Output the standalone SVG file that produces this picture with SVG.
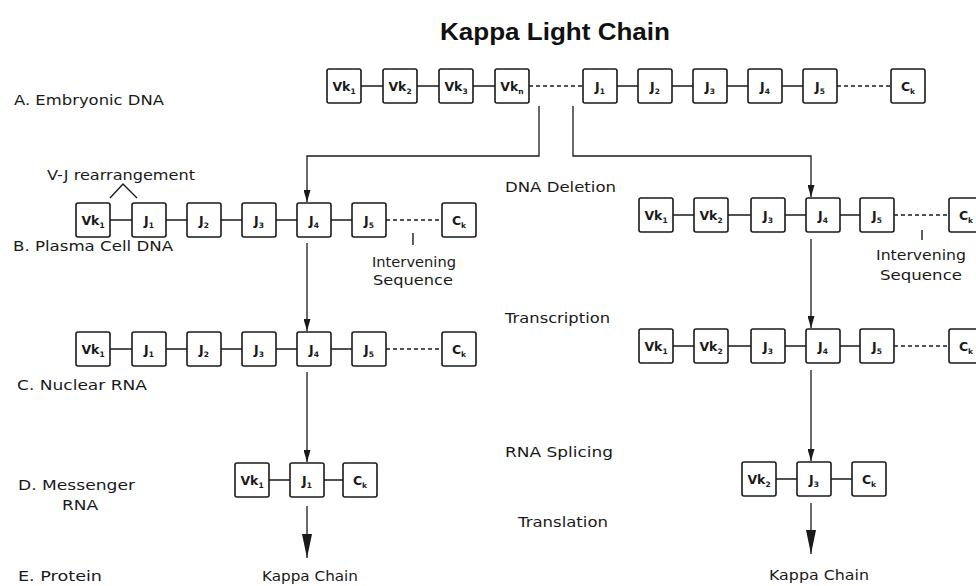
<svg xmlns="http://www.w3.org/2000/svg" width="976" height="586" viewBox="0 0 976 586">
<style>
.bg{fill:#ffffff}
.box rect{fill:#ffffff;stroke:#1a1a1a;stroke-width:1.6}
.box text{font-family:"DejaVu Sans","Liberation Sans",sans-serif;font-weight:bold;font-size:12.5px;fill:#1a1a1a;text-anchor:middle}
.box tspan.s{font-size:7.5px}
.lk{stroke:#1a1a1a;stroke-width:1.4;fill:none}
.dash{stroke:#1a1a1a;stroke-width:1.4;fill:none;stroke-dasharray:4 3}
.ar{stroke:#1a1a1a;stroke-width:1.3;fill:none}
.lbl{font-family:"DejaVu Sans","Liberation Sans",sans-serif;font-size:13.5px;fill:#1a1a1a}
.title{font-family:"Liberation Sans","DejaVu Sans",sans-serif;font-weight:bold;font-size:23px;fill:#111}
</style>
<defs>
<marker id="ah" viewBox="0 0 12 7" refX="12" refY="3.5" markerWidth="12" markerHeight="7" markerUnits="userSpaceOnUse" orient="auto">
<path d="M0,0 L12,3.5 L0,7 z" fill="#1a1a1a"/>
</marker>
<marker id="ahL" viewBox="0 0 24 10" refX="24" refY="5" markerWidth="24" markerHeight="10" markerUnits="userSpaceOnUse" orient="auto">
<path d="M0,0 L24,5 L0,10 z" fill="#1a1a1a"/>
</marker>
</defs>
<rect class="bg" x="0" y="0" width="976" height="586"/>

<text class="title" x="440" y="40" textLength="230" lengthAdjust="spacingAndGlyphs">Kappa Light Chain</text>

<g id="labels">
<text class="lbl" x="14" y="105" textLength="150" lengthAdjust="spacingAndGlyphs">A. Embryonic DNA</text>
<text class="lbl" x="47" y="180" textLength="148" lengthAdjust="spacingAndGlyphs">V-J rearrangement</text>
<text class="lbl" x="13" y="251" textLength="160" lengthAdjust="spacingAndGlyphs">B. Plasma Cell DNA</text>
<text class="lbl" x="17" y="390" textLength="130" lengthAdjust="spacingAndGlyphs">C. Nuclear RNA</text>
<text class="lbl" x="18" y="490" textLength="117" lengthAdjust="spacingAndGlyphs">D. Messenger</text>
<text class="lbl" x="62" y="510" textLength="36" lengthAdjust="spacingAndGlyphs">RNA</text>
<text class="lbl" x="18" y="581" textLength="84" lengthAdjust="spacingAndGlyphs">E. Protein</text>
<text class="lbl" x="505" y="192" textLength="111" lengthAdjust="spacingAndGlyphs">DNA Deletion</text>
<text class="lbl" x="505" y="323" textLength="105" lengthAdjust="spacingAndGlyphs">Transcription</text>
<text class="lbl" x="505" y="457" textLength="108" lengthAdjust="spacingAndGlyphs">RNA Splicing</text>
<text class="lbl" x="518" y="527" textLength="90" lengthAdjust="spacingAndGlyphs">Translation</text>
<text class="lbl" x="262" y="581" textLength="96" lengthAdjust="spacingAndGlyphs">Kappa Chain</text>
<text class="lbl" x="769" y="580" textLength="100" lengthAdjust="spacingAndGlyphs">Kappa Chain</text>
<text class="lbl" x="372" y="267" textLength="84" lengthAdjust="spacingAndGlyphs">Intervening</text>
<text class="lbl" x="373" y="285" textLength="80" lengthAdjust="spacingAndGlyphs">Sequence</text>
<text class="lbl" x="876" y="260" textLength="90" lengthAdjust="spacingAndGlyphs">Intervening</text>
<text class="lbl" x="880" y="280" textLength="82" lengthAdjust="spacingAndGlyphs">Sequence</text>
</g>

<g id="connectors">
<path class="lk" d="M361,86H383M417,86H439M473,86H495M617,86H638M672,86H693M727,86H748M782,86H803"/>
<path class="dash" d="M529,86H583M837,86H891"/>
<path class="lk" d="M110,220H132M166,220H187M221,220H242M276,220H297M331,220H352"/>
<path class="dash" d="M386,220H442"/>
<path class="lk" d="M413,233V245"/>
<path class="lk" d="M110,198L123,184L137,198"/>
<path class="lk" d="M673,215H694M728,215H751M785,215H806M840,215H860"/>
<path class="dash" d="M894,215H949"/>
<path class="lk" d="M922,230V240"/>
<path class="lk" d="M110,349H132M166,349H187M221,349H242M276,349H297M331,349H352"/>
<path class="dash" d="M386,349H442"/>
<path class="lk" d="M673,346H694M728,346H751M785,346H806M840,346H860"/>
<path class="dash" d="M894,346H949"/>
<path class="lk" d="M269,480H290M324,480H343"/>
<path class="lk" d="M776,479H797M831,479H852"/>
<path class="ar" d="M539,106V156H307V202" marker-end="url(#ah)"/>
<path class="ar" d="M307,243V331" marker-end="url(#ah)"/>
<path class="ar" d="M307,372V462" marker-end="url(#ah)"/>
<path class="ar" d="M307,506V558" marker-end="url(#ahL)"/>
<path class="ar" d="M573,106V156H811V197" marker-end="url(#ah)"/>
<path class="ar" d="M811,239V328" marker-end="url(#ah)"/>
<path class="ar" d="M811,370V461" marker-end="url(#ah)"/>
<path class="ar" d="M811,503V554" marker-end="url(#ahL)"/>
</g>

<g id="a-vk1" class="box"><rect x="327" y="69" width="34" height="34" rx="2"/><text x="344" y="91">Vk<tspan class="s" dy="3">1</tspan></text></g>
<g id="a-vk2" class="box"><rect x="383" y="69" width="34" height="34" rx="2"/><text x="400" y="91">Vk<tspan class="s" dy="3">2</tspan></text></g>
<g id="a-vk3" class="box"><rect x="439" y="69" width="34" height="34" rx="2"/><text x="456" y="91">Vk<tspan class="s" dy="3">3</tspan></text></g>
<g id="a-vkn" class="box"><rect x="495" y="69" width="34" height="34" rx="2"/><text x="512" y="91">Vk<tspan class="s" dy="3">n</tspan></text></g>
<g id="a-j1" class="box"><rect x="583" y="69" width="34" height="34" rx="2"/><text x="600" y="91">J<tspan class="s" dy="3">1</tspan></text></g>
<g id="a-j2" class="box"><rect x="638" y="69" width="34" height="34" rx="2"/><text x="655" y="91">J<tspan class="s" dy="3">2</tspan></text></g>
<g id="a-j3" class="box"><rect x="693" y="69" width="34" height="34" rx="2"/><text x="710" y="91">J<tspan class="s" dy="3">3</tspan></text></g>
<g id="a-j4" class="box"><rect x="748" y="69" width="34" height="34" rx="2"/><text x="765" y="91">J<tspan class="s" dy="3">4</tspan></text></g>
<g id="a-j5" class="box"><rect x="803" y="69" width="34" height="34" rx="2"/><text x="820" y="91">J<tspan class="s" dy="3">5</tspan></text></g>
<g id="a-ck" class="box"><rect x="891" y="69" width="34" height="34" rx="2"/><text x="908" y="91">C<tspan class="s" dy="3">k</tspan></text></g>

<g id="bl-vk1" class="box"><rect x="76" y="203" width="34" height="34" rx="2"/><text x="93" y="225">Vk<tspan class="s" dy="3">1</tspan></text></g>
<g id="bl-j1" class="box"><rect x="132" y="203" width="34" height="34" rx="2"/><text x="149" y="225">J<tspan class="s" dy="3">1</tspan></text></g>
<g id="bl-j2" class="box"><rect x="187" y="203" width="34" height="34" rx="2"/><text x="204" y="225">J<tspan class="s" dy="3">2</tspan></text></g>
<g id="bl-j3" class="box"><rect x="242" y="203" width="34" height="34" rx="2"/><text x="259" y="225">J<tspan class="s" dy="3">3</tspan></text></g>
<g id="bl-j4" class="box"><rect x="297" y="203" width="34" height="34" rx="2"/><text x="314" y="225">J<tspan class="s" dy="3">4</tspan></text></g>
<g id="bl-j5" class="box"><rect x="352" y="203" width="34" height="34" rx="2"/><text x="369" y="225">J<tspan class="s" dy="3">5</tspan></text></g>
<g id="bl-ck" class="box"><rect x="442" y="203" width="34" height="34" rx="2"/><text x="459" y="225">C<tspan class="s" dy="3">k</tspan></text></g>

<g id="br-vk1" class="box"><rect x="639" y="198" width="34" height="34" rx="2"/><text x="656" y="220">Vk<tspan class="s" dy="3">1</tspan></text></g>
<g id="br-vk2" class="box"><rect x="694" y="198" width="34" height="34" rx="2"/><text x="711" y="220">Vk<tspan class="s" dy="3">2</tspan></text></g>
<g id="br-j3" class="box"><rect x="751" y="198" width="34" height="34" rx="2"/><text x="768" y="220">J<tspan class="s" dy="3">3</tspan></text></g>
<g id="br-j4" class="box"><rect x="806" y="198" width="34" height="34" rx="2"/><text x="823" y="220">J<tspan class="s" dy="3">4</tspan></text></g>
<g id="br-j5" class="box"><rect x="860" y="198" width="34" height="34" rx="2"/><text x="877" y="220">J<tspan class="s" dy="3">5</tspan></text></g>
<g id="br-ck" class="box"><rect x="949" y="198" width="34" height="34" rx="2"/><text x="966" y="220">C<tspan class="s" dy="3">k</tspan></text></g>

<g id="cl-vk1" class="box"><rect x="76" y="332" width="34" height="34" rx="2"/><text x="93" y="354">Vk<tspan class="s" dy="3">1</tspan></text></g>
<g id="cl-j1" class="box"><rect x="132" y="332" width="34" height="34" rx="2"/><text x="149" y="354">J<tspan class="s" dy="3">1</tspan></text></g>
<g id="cl-j2" class="box"><rect x="187" y="332" width="34" height="34" rx="2"/><text x="204" y="354">J<tspan class="s" dy="3">2</tspan></text></g>
<g id="cl-j3" class="box"><rect x="242" y="332" width="34" height="34" rx="2"/><text x="259" y="354">J<tspan class="s" dy="3">3</tspan></text></g>
<g id="cl-j4" class="box"><rect x="297" y="332" width="34" height="34" rx="2"/><text x="314" y="354">J<tspan class="s" dy="3">4</tspan></text></g>
<g id="cl-j5" class="box"><rect x="352" y="332" width="34" height="34" rx="2"/><text x="369" y="354">J<tspan class="s" dy="3">5</tspan></text></g>
<g id="cl-ck" class="box"><rect x="442" y="332" width="34" height="34" rx="2"/><text x="459" y="354">C<tspan class="s" dy="3">k</tspan></text></g>

<g id="cr-vk1" class="box"><rect x="639" y="329" width="34" height="34" rx="2"/><text x="656" y="351">Vk<tspan class="s" dy="3">1</tspan></text></g>
<g id="cr-vk2" class="box"><rect x="694" y="329" width="34" height="34" rx="2"/><text x="711" y="351">Vk<tspan class="s" dy="3">2</tspan></text></g>
<g id="cr-j3" class="box"><rect x="751" y="329" width="34" height="34" rx="2"/><text x="768" y="351">J<tspan class="s" dy="3">3</tspan></text></g>
<g id="cr-j4" class="box"><rect x="806" y="329" width="34" height="34" rx="2"/><text x="823" y="351">J<tspan class="s" dy="3">4</tspan></text></g>
<g id="cr-j5" class="box"><rect x="860" y="329" width="34" height="34" rx="2"/><text x="877" y="351">J<tspan class="s" dy="3">5</tspan></text></g>
<g id="cr-ck" class="box"><rect x="949" y="329" width="34" height="34" rx="2"/><text x="966" y="351">C<tspan class="s" dy="3">k</tspan></text></g>

<g id="dl-vk1" class="box"><rect x="235" y="463" width="34" height="34" rx="2"/><text x="252" y="485">Vk<tspan class="s" dy="3">1</tspan></text></g>
<g id="dl-j1" class="box"><rect x="290" y="463" width="34" height="34" rx="2"/><text x="307" y="485">J<tspan class="s" dy="3">1</tspan></text></g>
<g id="dl-ck" class="box"><rect x="343" y="463" width="34" height="34" rx="2"/><text x="360" y="485">C<tspan class="s" dy="3">k</tspan></text></g>
<g id="dr-vk2" class="box"><rect x="742" y="462" width="34" height="34" rx="2"/><text x="759" y="484">Vk<tspan class="s" dy="3">2</tspan></text></g>
<g id="dr-j3" class="box"><rect x="797" y="462" width="34" height="34" rx="2"/><text x="814" y="484">J<tspan class="s" dy="3">3</tspan></text></g>
<g id="dr-ck" class="box"><rect x="852" y="462" width="34" height="34" rx="2"/><text x="869" y="484">C<tspan class="s" dy="3">k</tspan></text></g>
</svg>
